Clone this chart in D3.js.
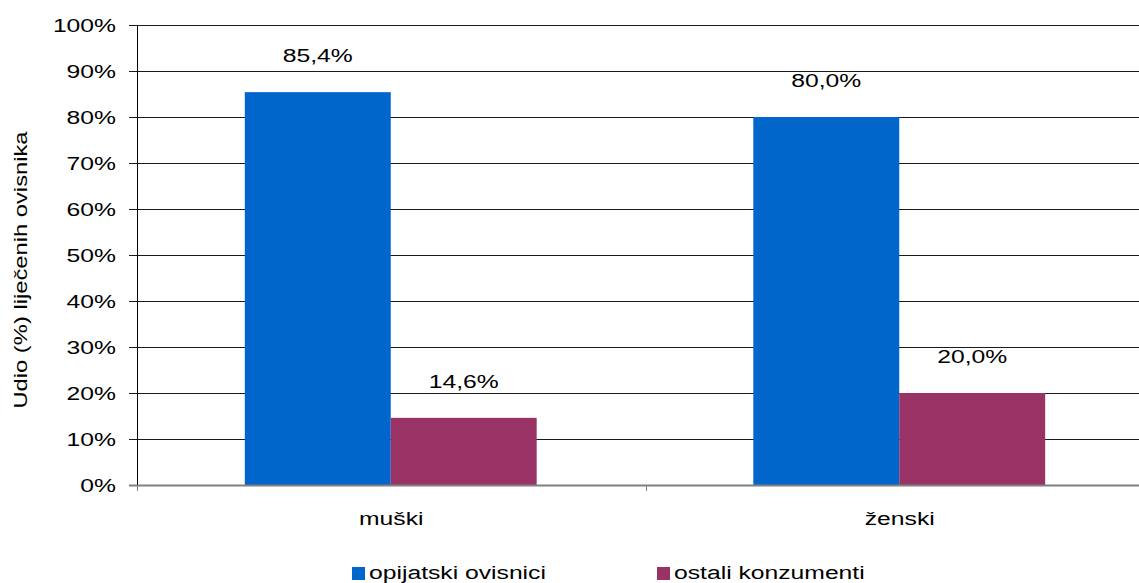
<!DOCTYPE html>
<html><head><meta charset="utf-8">
<script src="https://cdn.jsdelivr.net/npm/d3@7"></script>
<style>body{margin:0;background:#fff}svg{display:block}text{font-family:"Liberation Sans",Arial,sans-serif;fill:#000}</style>
</head><body><svg id="c" width="1139" height="583"></svg>
<script>
const categories = ["muški", "ženski"];
const seriesNames = ["opijatski ovisnici", "ostali konzumenti"];
const opijatski = [85.4, 80.0];
const ostali = [14.6, 20.0];
const valueLabels = [["85,4%", "80,0%"], ["14,6%", "20,0%"]];
const yTicks = [0,10,20,30,40,50,60,70,80,90,100];
const colors = ["#0066CC", "#993366"];
const yTitle = "Udio (%) liječenih ovisnika";

(function(){
const svg = d3.select("#c");
const SX = 1.3, FS = 19;
const pL = 137, pR = 1154, pT = 25, pB = 485;
const y = d3.scaleLinear().domain([0,100]).range([pB, pT]);
const x0 = d3.scaleBand().domain(categories).range([pL, pR]).padding(0);
const bw = x0.bandwidth();
const x1 = d3.scaleBand().domain(seriesNames).range([bw*0.212, bw*0.786]).padding(0);
const series = [opijatski, ostali];

function stext(g, x, yy, t, anchor, opts={}) {
  return g.append("text").attr("transform", `translate(${x},${yy}) scale(${SX},1)`)
    .attr("text-anchor", anchor).attr("font-size", FS).attr("dy", opts.dy||0).text(t);
}

svg.append("g").selectAll("line").data(yTicks.filter(d=>d>0)).join("line")
  .attr("x1", pL-8).attr("x2", 1139).attr("y1", d=>Math.round(y(d))+0.5).attr("y2", d=>Math.round(y(d))+0.5)
  .attr("stroke", "#1a1a1a").attr("stroke-width", 1);

series.forEach((vals, si) => {
  svg.append("g").selectAll("rect").data(categories).join("rect")
    .attr("x", c => x0(c) + x1(seriesNames[si]))
    .attr("width", x1.bandwidth())
    .attr("y", (c,i) => y(vals[i]))
    .attr("height", (c,i) => y(0) - y(vals[i]))
    .attr("fill", colors[si]);
  categories.forEach((c,i) => {
    stext(svg, x0(c) + x1(seriesNames[si]) + x1.bandwidth()/2, y(vals[i]) - 30, valueLabels[si][i], "middle");
  });
});

svg.append("line").attr("x1", pL+0.5).attr("x2", pL+0.5).attr("y1", pT).attr("y2", pB).attr("stroke", "#000");
svg.append("line").attr("x1", pL-8).attr("x2", 1139).attr("y1", pB+0.5).attr("y2", pB+0.5).attr("stroke", "#808080").attr("stroke-width", 2);
const xb = [pL, ...categories.map(c => x0(c) + bw)];
svg.append("g").selectAll("line").data(xb).join("line")
  .attr("x1", d=>Math.round(d)+0.5).attr("x2", d=>Math.round(d)+0.5).attr("y1", pB).attr("y2", pB+6)
  .attr("stroke", "#808080");

yTicks.forEach(t => stext(svg, 116, y(t), t + "%", "end", {dy:"0.35em"}));
categories.forEach(c => stext(svg, x0(c) + bw/2, 525, c, "middle"));

svg.append("text").attr("transform", `translate(27,${(pT+pB)/2+15}) rotate(-90) scale(1.25,1)`)
  .attr("text-anchor", "middle").attr("font-size", FS).text(yTitle);

const legX = [352, 657];
seriesNames.forEach((s, i) => {
  svg.append("rect").attr("x", legX[i]).attr("y", 567).attr("width", 13).attr("height", 13).attr("fill", colors[i]);
  stext(svg, legX[i] + 17, 579, s, "start");
});
})();
</script></body></html>
